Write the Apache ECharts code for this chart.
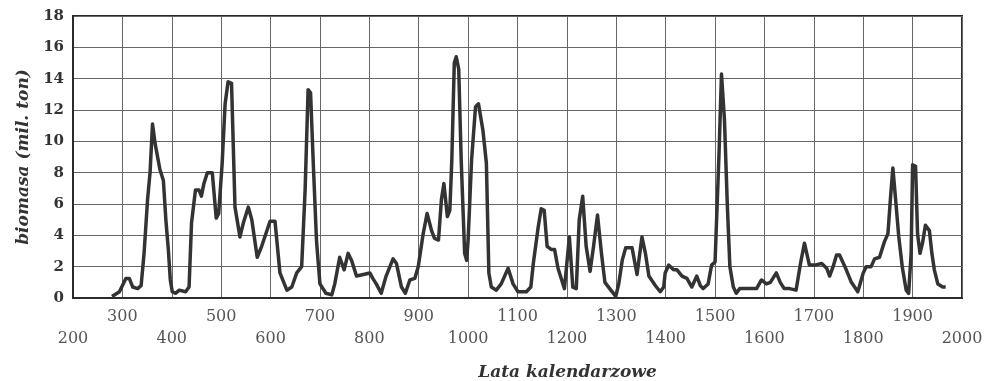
<!DOCTYPE html>
<html>
<head>
<meta charset="utf-8">
<script src="https://cdn.jsdelivr.net/npm/echarts@6/dist/echarts.min.js"></script>
<style>
  html, body { margin: 0; padding: 0; background: #fff; }
  #chart { width: 990px; height: 381px; }
</style>
</head>
<body>
<div id="chart"></div>
<script>
// lata kalendarzowe
var years = [279, 294, 307, 314, 321, 331, 338, 344, 351, 356, 361, 366, 376, 383, 388, 393, 397,
  401, 408, 415, 428, 435, 440, 448, 455, 460, 465, 472, 482, 490, 495,
  502, 508, 514, 521, 528, 538, 545, 555, 562, 573, 582, 599,
  609, 619, 633, 643, 653, 663, 670, 676, 681, 687, 693, 695,
  700, 712, 724, 730, 740, 749, 757, 764, 774, 788,
  801, 807, 814, 824, 834, 848, 855, 865, 873, 882, 892, 899,
  909, 917, 926, 932, 940, 946, 951, 958, 963, 967, 972, 976, 981, 986, 993, 997,
  1000, 1007, 1015, 1021, 1030, 1037, 1042, 1047, 1057, 1067, 1081, 1091,
  1101, 1118, 1127, 1132, 1142, 1148, 1154, 1160, 1168, 1175, 1182, 1195,
  1205, 1212, 1219, 1225, 1232, 1239, 1247, 1254, 1262, 1270, 1277, 1289, 1299,
  1305, 1312, 1319, 1332, 1342, 1352, 1359, 1366, 1379, 1389, 1396, 1399,
  1406, 1416, 1423, 1433, 1443, 1453, 1463, 1470, 1476, 1486, 1493,
  1500, 1503, 1508, 1513, 1519, 1525, 1530, 1537, 1543, 1550, 1567, 1584, 1594,
  1604, 1612, 1624, 1632, 1640, 1651, 1664, 1673, 1681, 1691,
  1702, 1716, 1726, 1732, 1739, 1746, 1752, 1763, 1776, 1789,
  1800, 1806, 1816, 1823, 1833, 1843, 1850, 1855, 1860, 1865, 1872, 1879, 1887, 1892, 1897,
  1900, 1906, 1910, 1915, 1920, 1926, 1934, 1939, 1944, 1951, 1961, 1967];

// biomasa (mil. ton)
var biomass = [0.1, 0.4, 1.25, 1.25, 0.7, 0.6, 0.8, 2.9, 6.3, 8.0, 11.1, 9.9, 8.2, 7.5, 5.0, 3.1, 1.15,
  0.4, 0.3, 0.5, 0.4, 0.7, 4.8, 6.9, 6.9, 6.5, 7.3, 8.0, 8.0, 5.1, 5.4,
  8.6, 12.4, 13.8, 13.7, 5.8, 3.9, 4.8, 5.8, 5.0, 2.6, 3.3, 4.9,
  4.9, 1.6, 0.5, 0.7, 1.6, 2.0, 6.9, 13.3, 13.1, 8.2, 3.7, 2.85,
  0.9, 0.3, 0.2, 0.9, 2.6, 1.8, 2.85, 2.4, 1.4, 1.5,
  1.6, 1.25, 0.9, 0.3, 1.4, 2.5, 2.2, 0.7, 0.3, 1.15, 1.25, 2.0,
  4.1, 5.4, 4.3, 3.8, 3.7, 6.3, 7.3, 5.2, 5.6, 8.8, 15.0, 15.4, 14.6, 8.8, 2.85, 2.4,
  3.7, 8.8, 12.2, 12.4, 10.7, 8.6, 1.6, 0.7, 0.5, 0.9, 1.9, 0.9,
  0.4, 0.4, 0.7, 2.2, 4.55, 5.7, 5.6, 3.3, 3.1, 3.1, 1.9, 0.6,
  3.9, 0.7, 0.6, 5.0, 6.5, 3.3, 1.7, 3.3, 5.3, 2.85, 1.0, 0.5, 0.1,
  0.9, 2.4, 3.2, 3.2, 1.5, 3.9, 2.85, 1.4, 0.8, 0.4, 0.7, 1.6,
  2.1, 1.8, 1.8, 1.4, 1.25, 0.7, 1.4, 0.8, 0.6, 0.9, 2.1,
  2.3, 2.4, 9.2, 14.3, 11.4, 5.8, 2.0, 0.7, 0.3, 0.6, 0.6, 0.6, 1.15,
  0.9, 1.0, 1.6, 1.0, 0.6, 0.6, 0.5, 2.2, 3.5, 2.1,
  2.1, 2.2, 1.9, 1.4, 2.0, 2.75, 2.75, 2.0, 1.0, 0.4,
  1.6, 2.0, 2.0, 2.5, 2.6, 3.6, 4.1, 6.3, 8.3, 6.5, 3.9, 2.0, 0.5, 0.3, 2.85,
  8.5, 8.4, 4.1, 2.85, 3.5, 4.65, 4.3, 2.85, 1.8, 0.9, 0.7, 0.7];

var serif = '"DejaVu Serif", "Liberation Serif", serif';

var points = [];
for (var i = 0; i < years.length; i++) {
  points.push([years[i], biomass[i]]);
}

var chart = echarts.init(document.getElementById('chart'), null, { renderer: 'canvas' });

var option = {
  backgroundColor: '#fff',
  animation: false,
  grid: {
    left: 73, right: 28, top: 16, bottom: 83,
    outerBoundsMode: 'none',
    show: true, borderColor: '#2b2b2b', borderWidth: 2
  },
  xAxis: {
    type: 'value',
    min: 200, max: 2000, interval: 100,
    name: 'Lata kalendarzowe',
    nameLocation: 'middle',
    nameGap: 66,
    nameTextStyle: {
      fontFamily: serif, fontSize: 17, fontStyle: 'italic', fontWeight: 'bold',
      color: '#333', padding: [0, 0, 0, 100]
    },
    axisLine: { show: true, lineStyle: { color: '#2b2b2b', width: 2 } },
    axisTick: { show: false },
    splitLine: { show: true, lineStyle: { color: '#666', width: 1 } },
    axisLabel: {
      fontFamily: serif, fontSize: 16, color: '#555', margin: 8, lineHeight: 22,
      // parzyste setki w dolnym wierszu
      formatter: function (v) {
        return (v / 100) % 2 === 0 ? '\n' + v : '' + v;
      }
    }
  },
  yAxis: {
    type: 'value',
    min: 0, max: 18, interval: 2,
    name: 'biomasa (mil. ton)',
    nameLocation: 'middle',
    nameGap: 34,
    nameTextStyle: {
      fontFamily: serif, fontSize: 17, fontStyle: 'italic', fontWeight: 'bold', color: '#333'
    },
    axisLine: { show: true, lineStyle: { color: '#2b2b2b', width: 2 } },
    axisTick: { show: false },
    splitLine: { show: true, lineStyle: { color: '#666', width: 1 } },
    axisLabel: {
      fontFamily: serif, fontSize: 15, fontWeight: 'bold', color: '#333', margin: 9
    }
  },
  series: [
    {
      type: 'line',
      data: points,
      showSymbol: false,
      smooth: false,
      lineStyle: { color: '#333', width: 3.5, join: 'round' }
    }
  ]
};

chart.setOption(option);
</script>
</body>
</html>
